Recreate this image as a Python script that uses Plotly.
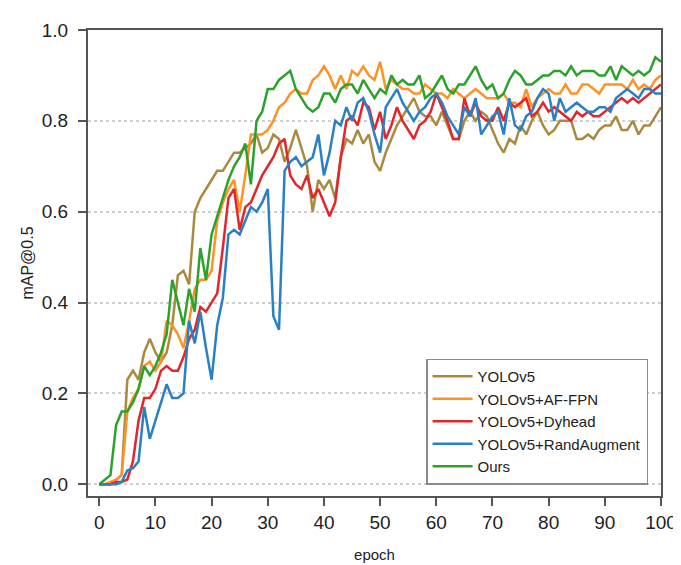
import plotly.graph_objects as go

epochs = list(range(101))

yolov5 = [0.0, 0.0, 0.0, 0.01, 0.02, 0.23, 0.25, 0.23, 0.29, 0.32,
          0.29, 0.27, 0.29, 0.35, 0.46, 0.47, 0.44, 0.60, 0.63, 0.65,
          0.67, 0.69, 0.69, 0.71, 0.73, 0.73, 0.74, 0.75, 0.77, 0.73,
          0.74, 0.77, 0.76, 0.71, 0.74, 0.78, 0.74, 0.70, 0.60, 0.67,
          0.65, 0.67, 0.63, 0.72, 0.76, 0.75, 0.78, 0.75, 0.77, 0.71,
          0.69, 0.73, 0.76, 0.79, 0.81, 0.83, 0.85, 0.82, 0.81, 0.81,
          0.79, 0.82, 0.79, 0.76, 0.76, 0.80, 0.82, 0.80, 0.82, 0.81,
          0.78, 0.75, 0.73, 0.76, 0.75, 0.79, 0.77, 0.80, 0.82, 0.79,
          0.77, 0.78, 0.80, 0.80, 0.80, 0.76, 0.76, 0.77, 0.76, 0.78,
          0.79, 0.79, 0.81, 0.78, 0.78, 0.80, 0.77, 0.79, 0.79, 0.81,
          0.83]

af_fpn = [0.0, 0.0, 0.005, 0.01, 0.02, 0.16, 0.19, 0.21, 0.26, 0.27,
          0.25, 0.27, 0.36, 0.35, 0.33, 0.30, 0.36, 0.43, 0.45, 0.45,
          0.47, 0.58, 0.62, 0.65, 0.67, 0.60, 0.68, 0.77, 0.77, 0.77,
          0.78, 0.80, 0.83, 0.84, 0.86, 0.87, 0.86, 0.86, 0.89, 0.90,
          0.92, 0.90, 0.87, 0.90, 0.87, 0.91, 0.90, 0.92, 0.90, 0.89,
          0.93, 0.87, 0.89, 0.88, 0.87, 0.87, 0.86, 0.86, 0.88, 0.87,
          0.86, 0.86, 0.85, 0.87, 0.86, 0.85, 0.86, 0.87, 0.86, 0.85,
          0.85, 0.85, 0.86, 0.84, 0.84, 0.83, 0.87, 0.83, 0.85, 0.86,
          0.87, 0.86, 0.86, 0.88, 0.86, 0.86, 0.88, 0.88, 0.87, 0.86,
          0.88, 0.88, 0.88, 0.88, 0.87, 0.89, 0.87, 0.88, 0.87, 0.89,
          0.90]

dyhead = [0.0, 0.0, 0.0, 0.005, 0.005, 0.01, 0.05, 0.14, 0.19, 0.19,
          0.21, 0.25, 0.26, 0.25, 0.25, 0.28, 0.32, 0.34, 0.39, 0.38,
          0.40, 0.42, 0.52, 0.63, 0.65, 0.56, 0.61, 0.62, 0.65, 0.68,
          0.70, 0.72, 0.75, 0.76, 0.68, 0.66, 0.65, 0.68, 0.63, 0.65,
          0.62, 0.59, 0.62, 0.72, 0.80, 0.81, 0.79, 0.84, 0.83, 0.78,
          0.82, 0.76, 0.79, 0.83, 0.80, 0.78, 0.76, 0.79, 0.80, 0.82,
          0.86, 0.83, 0.80, 0.76, 0.76, 0.85, 0.81, 0.84, 0.81, 0.80,
          0.80, 0.83, 0.80, 0.84, 0.83, 0.84, 0.85, 0.81, 0.82, 0.84,
          0.82, 0.83, 0.82, 0.81, 0.80, 0.82, 0.81, 0.82, 0.81, 0.81,
          0.82, 0.83, 0.84, 0.85, 0.84, 0.85, 0.84, 0.85, 0.86, 0.87,
          0.88]

randaug = [0.0, 0.0, 0.0, 0.0, 0.005, 0.03, 0.035, 0.05, 0.17, 0.10,
           0.14, 0.18, 0.22, 0.19, 0.19, 0.20, 0.36, 0.31, 0.38, 0.30,
           0.23, 0.35, 0.41, 0.55, 0.56, 0.55, 0.58, 0.61, 0.60, 0.62,
           0.65, 0.37, 0.34, 0.69, 0.71, 0.72, 0.70, 0.71, 0.72, 0.77,
           0.68, 0.73, 0.80, 0.79, 0.83, 0.80, 0.84, 0.85, 0.82, 0.77,
           0.73, 0.83, 0.85, 0.87, 0.84, 0.82, 0.80, 0.82, 0.83, 0.85,
           0.86, 0.84, 0.81, 0.79, 0.77, 0.83, 0.81, 0.85, 0.77, 0.79,
           0.81, 0.82, 0.77, 0.85, 0.79, 0.78, 0.81, 0.82, 0.85, 0.87,
           0.86, 0.80, 0.85, 0.82, 0.83, 0.84, 0.83, 0.82, 0.82, 0.83,
           0.83, 0.82, 0.85, 0.86, 0.87, 0.86, 0.85, 0.87, 0.87, 0.86,
           0.86]

ours = [0.0, 0.01, 0.02, 0.13, 0.16, 0.16, 0.18, 0.21, 0.26, 0.24,
        0.26, 0.29, 0.33, 0.45, 0.40, 0.35, 0.43, 0.38, 0.52, 0.45,
        0.55, 0.59, 0.63, 0.67, 0.70, 0.72, 0.75, 0.66, 0.80, 0.82,
        0.87, 0.87, 0.89, 0.90, 0.91, 0.87, 0.85, 0.83, 0.82, 0.83,
        0.86, 0.86, 0.84, 0.87, 0.88, 0.88, 0.86, 0.89, 0.87, 0.85,
        0.87, 0.86, 0.90, 0.88, 0.89, 0.88, 0.88, 0.90, 0.85, 0.86,
        0.88, 0.90, 0.87, 0.86, 0.88, 0.88, 0.90, 0.92, 0.89, 0.87,
        0.88, 0.85, 0.86, 0.89, 0.91, 0.90, 0.88, 0.88, 0.89, 0.90,
        0.90, 0.91, 0.91, 0.90, 0.92, 0.90, 0.91, 0.91, 0.91, 0.90,
        0.90, 0.92, 0.89, 0.92, 0.91, 0.90, 0.91, 0.90, 0.91, 0.94,
        0.93]

series_names = ["YOLOv5", "YOLOv5+AF-FPN", "YOLOv5+Dyhead", "YOLOv5+RandAugment", "Ours"]
series_values = [yolov5, af_fpn, dyhead, randaug, ours]
series_colors = ["#A98A3F", "#FF9224", "#E2262B", "#2A80C4", "#2CA22C"]

x_ticks = [0, 10, 20, 30, 40, 50, 60, 70, 80, 90, 100]
y_ticks = [0.0, 0.2, 0.4, 0.6, 0.8, 1.0]

FONT = "Liberation Sans, Arial, sans-serif"

fig = go.Figure()
for name, vals, col in zip(series_names, series_values, series_colors):
    fig.add_trace(go.Scatter(x=epochs, y=vals, mode="lines", name=name,
                             line=dict(color=col, width=2.5)))

fig.update_layout(
    width=681, height=565,
    margin=dict(l=80, r=18, t=22, b=68),
    paper_bgcolor="white", plot_bgcolor="white",
    font=dict(family=FONT, color="#222"),
    showlegend=True,
    legend=dict(
        x=0.59, y=0.295, xanchor="left", yanchor="top",
        bgcolor="white", bordercolor="#8a8a8a", borderwidth=1.5,
        font=dict(family=FONT, size=15, color="#222"),
        itemwidth=40, tracegroupgap=0,
    ),
)

fig.update_xaxes(
    range=[-2, 100], tickvals=x_ticks, ticktext=[str(v) for v in x_ticks],
    showgrid=False, zeroline=False,
    showline=True, linecolor="#555", linewidth=2, mirror=True,
    ticks="outside", ticklen=8, tickwidth=2, tickcolor="#555",
    tickfont=dict(size=19, color="#222"),
    title=dict(text="epoch", font=dict(size=15, color="#222"), standoff=18),
)
fig.update_yaxes(
    range=[-0.026, 1.0], tickvals=y_ticks, ticktext=["%.1f" % v for v in y_ticks],
    showgrid=True, gridcolor="#cfcfcf", gridwidth=1.5, griddash="dot",
    zeroline=False,
    showline=True, linecolor="#555", linewidth=2, mirror=True,
    ticks="outside", ticklen=8, tickwidth=2, tickcolor="#555",
    tickfont=dict(size=19, color="#222"), ticklabelstandoff=6,
    title=dict(text="mAP@0.5", font=dict(size=16, color="#222"), standoff=4),
)

fig.write_html("out.html")
